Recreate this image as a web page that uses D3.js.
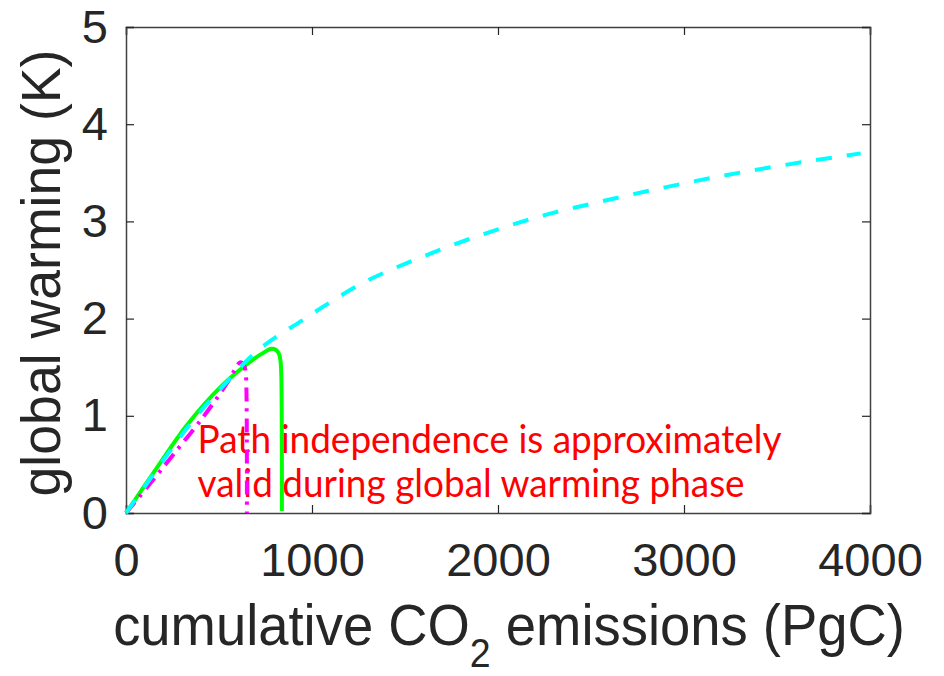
<!DOCTYPE html>
<html lang="en">
<head>
    <meta charset="UTF-8">
    <title>Warming vs cumulative emissions</title>
    <style type="text/css">
        body { margin: 0; background: white; }
        .axis text { font-family: "Liberation Sans", Arial, sans-serif; fill: #262626; }
    </style>
</head>
<body>

<svg width="944" height="676"></svg>

<script src="https://d3js.org/d3.v7.min.js"></script>

<script>
    // tick values
    var xTicks = [0, 1000, 2000, 3000, 4000];
    var yTicks = [0, 1, 2, 3, 4, 5];

    // cyan dashed curve (emissions keep rising)
    var cyanX = [0, 100, 200, 326, 505, 684, 962, 1267, 1599, 1939, 2280, 2521, 2871, 3355, 3950];
    var cyanY = [0, 0.27, 0.54, 0.87, 1.27, 1.63, 2.00, 2.36, 2.64, 2.88, 3.08, 3.19, 3.34, 3.52, 3.70];

    // green solid curve (stops near 840 PgC)
    var greenX = [0, 150, 326, 505, 684, 740, 780, 805, 822, 831, 835, 837, 838, 838];
    var greenY = [0, 0.42, 0.90, 1.29, 1.58, 1.65, 1.69, 1.68, 1.64, 1.56, 1.42, 1.10, 0.60, 0.02];

    // magenta dash-dot curve (stops near 650 PgC)
    var magX = [0, 120, 254, 416, 541, 590, 613, 632, 643, 647, 649, 650, 650];
    var magY = [0, 0.28, 0.60, 0.99, 1.33, 1.49, 1.55, 1.53, 1.45, 1.30, 1.00, 0.50, 0];

    var noteLines = ["Path independence is approximately", "valid during global warming phase"];

    var svg = d3.select("svg"),
            margin = {top: 27, right: 74, bottom: 163, left: 126},
            width = +svg.attr("width") - margin.left - margin.right,
            height = +svg.attr("height") - margin.top - margin.bottom,
            g = svg.append("g").attr("transform", "translate(" + margin.left + "," + margin.top + ")");

    var x = d3.scaleLinear().domain([0, 4000]).range([0, width]);
    var y = d3.scaleLinear().domain([0, 5]).range([height, 0]);

    function zip(xs, ys) {
        return xs.map(function (v, i) { return [v, ys[i]]; });
    }

    // annotation (under the lines)
    g.selectAll(".note")
            .data(noteLines)
            .enter().append("text")
            .attr("class", "note")
            .attr("x", x(385))
            .attr("y", function (d, i) { return y(0.62) + i * 44; })
            .attr("textLength", function (d, i) { return i === 0 ? 584 : 547; })
            .attr("lengthAdjust", "spacingAndGlyphs")
            .style("font-family", "Lato, 'Open Sans', sans-serif")
            .style("font-size", "38px")
            .style("fill", "#ff0000")
            .text(function (d) { return d; });

    // axes, ticks inward on all four sides
    var tickLen = 8;
    g.append("g").attr("class", "axis")
            .attr("transform", "translate(0," + height + ")")
            .call(d3.axisBottom(x).tickValues(xTicks).tickSize(-tickLen).tickPadding(30).tickFormat(d3.format("d")));
    g.append("g").attr("class", "axis")
            .call(d3.axisTop(x).tickValues(xTicks).tickSize(-tickLen).tickFormat(""));
    g.append("g").attr("class", "axis")
            .call(d3.axisLeft(y).tickValues(yTicks).tickSize(-tickLen).tickPadding(18).tickFormat(d3.format("d")));
    g.append("g").attr("class", "axis")
            .attr("transform", "translate(" + width + ",0)")
            .call(d3.axisRight(y).tickValues(yTicks).tickSize(-tickLen).tickFormat(""));

    g.selectAll(".axis .domain").attr("stroke", "#404040").attr("stroke-width", 1.5);
    g.selectAll(".axis .tick line").attr("stroke", "#262626").attr("stroke-width", 1.2);
    g.selectAll(".axis text").style("font-size", "47px");

    // curves
    var lineMono = d3.line()
            .x(function (d) { return x(d[0]); })
            .y(function (d) { return y(d[1]); })
            .curve(d3.curveMonotoneX);
    var lineCR = d3.line()
            .x(function (d) { return x(d[0]); })
            .y(function (d) { return y(d[1]); })
            .curve(d3.curveCatmullRom.alpha(0.5));

    g.append("path")
            .datum(zip(greenX, greenY))
            .attr("d", lineCR)
            .attr("fill", "none")
            .attr("stroke", "#00ff00")
            .attr("stroke-width", 4);

    g.append("path")
            .datum(zip(magX, magY))
            .attr("d", lineCR)
            .attr("fill", "none")
            .attr("stroke", "#ff00ff")
            .attr("stroke-width", 4)
            .attr("stroke-dasharray", "14,7,3,7");

    g.append("path")
            .datum(zip(cyanX, cyanY))
            .attr("d", lineMono)
            .attr("fill", "none")
            .attr("stroke", "#00ffff")
            .attr("stroke-width", 4)
            .attr("stroke-dasharray", "16,15");

    // axis labels, squeezed horizontally to the reference widths
    function fitWidth(sel, cx, cy, rot, target) {
        var w = sel.node().getBBox().width;
        sel.attr("transform", "translate(" + cx + "," + cy + ") rotate(" + rot + ") scale(" + (target / w) + ",1)");
    }

    var xl = svg.append("text")
            .attr("text-anchor", "middle")
            .style("font-family", "'Liberation Sans', Arial, sans-serif")
            .style("font-size", "58px")
            .style("fill", "#262626");
    xl.append("tspan").text("cumulative CO");
    xl.append("tspan").attr("dy", 22).style("font-size", "40px").text("2");
    xl.append("tspan").attr("dy", -22).text(" emissions (PgC)");
    fitWidth(xl, 509, 645, 0, 792);

    var yl = svg.append("text")
            .attr("text-anchor", "middle")
            .style("font-family", "'Liberation Sans', Arial, sans-serif")
            .style("font-size", "56px")
            .style("fill", "#262626")
            .text("global warming (K)");
    fitWidth(yl, 60, 273, -90, 447);
</script>

</body>
</html>
